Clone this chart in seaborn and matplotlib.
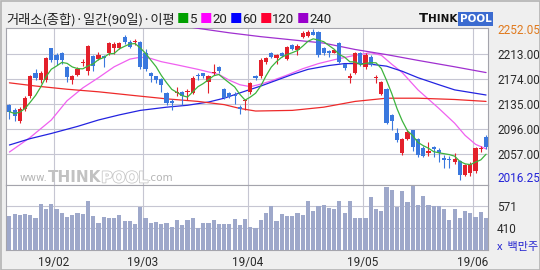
import matplotlib
matplotlib.use('Agg')
import matplotlib.pyplot as plt
from matplotlib.patches import Rectangle
import matplotlib.patheffects as pe
import numpy as np
import pandas as pd
import seaborn as sns

# ---------------- data ----------------
opens = [2133, 2126, 2108, 2127, 2147, 2184, 2172, 2173, 2222, 2211,
         2214, 2192, 2172, 2180, 2199, 2186, 2210, 2205, 2210, 2214,
         2222, 2222, 2240, 2231, 2232, 2231, 2215, 2183, 2178, 2174,
         2152, 2140, 2152, 2153, 2153, 2152, 2180, 2183, 2170, 2183,
         2193, 2158, 2152, 2149, 2131, 2139, 2153, 2178, 2178, 2200,
         2214, 2207, 2214, 2205, 2227, 2219, 2240, 2241, 2248, 2248,
         2222, 2217, 2215, 2230, 2197, 2176, 2183, 2214, 2193, 2209,
         2175, 2151, 2159, 2118, 2089, 2058, 2081, 2094, 2081, 2066,
         2059, 2068, 2063, 2050, 2049, 2044, 2046, 2024, 2027, 2030,
         2064, 2084]
highs = [2135, 2128, 2130, 2147, 2180, 2190, 2186, 2208, 2223, 2215,
         2216, 2194, 2180, 2192, 2205, 2227, 2212, 2216, 2212, 2232,
         2232, 2232, 2242, 2235, 2236, 2234, 2220, 2185, 2179, 2176,
         2154, 2142, 2161, 2155, 2158, 2178, 2184, 2184, 2180, 2198,
         2195, 2160, 2154, 2153, 2133, 2142, 2170, 2180, 2206, 2208,
         2216, 2213, 2216, 2226, 2229, 2229, 2249, 2250, 2252.05, 2249,
         2224, 2219, 2221, 2232, 2198, 2183, 2216, 2216, 2214, 2212,
         2180, 2171, 2160, 2120, 2097, 2082, 2094, 2095, 2082, 2069,
         2076, 2070, 2066, 2055, 2054, 2058, 2047, 2041, 2044, 2068,
         2070, 2087]
lows = [2111, 2108, 2105, 2124, 2145, 2172, 2168, 2170, 2200, 2196,
        2197, 2170, 2166, 2178, 2194, 2180, 2186, 2203, 2192, 2212,
        2213, 2220, 2228, 2223, 2227, 2190, 2186, 2170, 2168, 2154,
        2134, 2126, 2147, 2133, 2141, 2150, 2172, 2175, 2152, 2180,
        2183, 2142, 2144, 2135, 2120, 2126, 2151, 2172, 2176, 2198,
        2206, 2198, 2208, 2203, 2219, 2211, 2238, 2239, 2242, 2209,
        2212, 2208, 2214, 2199, 2188, 2167, 2181, 2195, 2190, 2194,
        2168, 2149, 2103, 2094, 2076, 2055, 2079, 2061, 2052, 2053,
        2054, 2052, 2045, 2035, 2035, 2042, 2016.25, 2022, 2022, 2028,
        2060, 2064]
closes = [2123, 2117, 2127, 2145, 2178, 2175, 2184, 2206, 2203, 2203,
          2203, 2177, 2178, 2190, 2201, 2225, 2194, 2211, 2206, 2230,
          2228, 2230, 2231, 2224, 2233, 2193, 2189, 2178, 2173, 2165,
          2136, 2137, 2154, 2148, 2154, 2176, 2178, 2178, 2178, 2185,
          2186, 2144, 2146, 2147, 2127, 2141, 2168, 2176, 2204, 2206,
          2209, 2211, 2210, 2224, 2221, 2226, 2245, 2248, 2243, 2211,
          2214, 2215, 2219, 2201, 2191, 2178, 2214, 2198, 2211, 2196,
          2177, 2170, 2105, 2108, 2079, 2081, 2092, 2068, 2055, 2054,
          2061, 2065, 2059, 2048, 2047, 2049, 2024, 2040, 2042, 2067,
          2066, 2068]
volumes = [498, 512, 508, 512, 505, 486, 586, 549, 586, 549,
           517, 493, 505, 517, 512, 608, 498, 449, 493, 486,
           486, 505, 461, 461, 442, 566, 486, 449, 454, 437,
           447, 415, 466, 430, 466, 486, 408, 447, 447, 466,
           437, 442, 442, 478, 430, 478, 415, 408, 466, 517,
           571, 461, 512, 498, 498, 522, 508, 608, 532, 571,
           578, 559, 549, 608, 517, 608, 486, 486, 481, 634,
           549, 537, 712, 688, 566, 680, 603, 715, 581, 646,
           578, 571, 571, 549, 469, 549, 486, 532, 517, 493,
           525, 486]

month_labels = ['19/02', '19/03', '19/04', '19/05', '19/06']
month_first_idx = [9, 26, 46, 68, 89]

ma20_idx = [0, 4, 8, 11, 14, 17, 20, 23, 25, 27, 29, 32, 36, 40, 42, 44, 46, 48,
            50, 53, 56, 59, 62, 66, 69, 71, 73, 75, 78, 82, 85, 87, 89, 91]
ma20_val = [2060, 2083, 2110, 2140, 2160, 2176, 2193, 2205, 2208, 2206, 2201, 2196,
            2189, 2181, 2172, 2165, 2162, 2166, 2171, 2180, 2190, 2198, 2204, 2211,
            2215, 2211, 2197, 2184, 2157, 2128, 2105, 2086, 2072, 2065]
ma60_idx = [0, 4, 8, 13, 17, 21, 25, 30, 34, 38, 41, 45, 48, 51, 54, 57, 61, 64,
            68, 72, 75, 78, 82, 85, 88, 91]
ma60_val = [2071, 2081, 2089, 2100, 2110, 2118, 2125, 2130, 2133, 2138, 2144, 2155,
            2163, 2172, 2181, 2189, 2195, 2198, 2198, 2194, 2186, 2176, 2165, 2157,
            2153, 2149]
ma120_idx = [0, 5, 11, 17, 24, 30, 36, 41, 44, 47, 54, 60, 66, 72, 78, 85, 91]
ma120_val = [2168, 2163, 2158, 2154, 2148, 2143, 2139, 2134, 2128, 2124, 2125, 2130,
             2139, 2144, 2144, 2142, 2139]
ma240_idx = [33, 36, 42, 48, 54, 60, 66, 72, 78, 85, 91]
ma240_val = [2257, 2253, 2246, 2240, 2235, 2230, 2220, 2212, 2203, 2193, 2184]

price_ticks = [2057, 2096, 2135, 2174, 2213]
volume_ticks = [410, 571]

# ---------------- style ----------------
sns.set_theme(style='white')
NUM_FONT = ['Liberation Sans Narrow', 'Roboto', 'DejaVu Sans']
KR_FONT = ['Noto Sans CJK KR', 'DejaVu Sans']
plt.rcParams['font.family'] = ['Liberation Sans Narrow', 'Noto Sans CJK KR', 'DejaVu Sans']

RED, BLUE = '#e3202b', '#3a78de'
GRID = '#c6c6d2'
SPINE = '#a4a4ac'

df = pd.DataFrame({'idx': np.arange(len(closes)), 'open': opens, 'high': highs,
                   'low': lows, 'close': closes, 'volume': volumes})
df['ma5'] = df['close'].rolling(5, min_periods=1).mean()

W, H = 540, 270
fig = plt.figure(figsize=(W / 100, H / 100), dpi=100)
fig.patch.set_facecolor('#efefef')

L, R = 6, 488
P_TOP, P_BOT, V_BOT = 27.5, 185, 250
ax = fig.add_axes([L / W, 1 - P_BOT / H, (R - L) / W, (P_BOT - P_TOP) / H])
axv = fig.add_axes([L / W, 1 - V_BOT / H, (R - L) / W, (V_BOT - P_BOT) / H])
for a in (ax, axv):
    a.set_facecolor('white')

# volume bars
sns.barplot(data=df, x='idx', y='volume', ax=axv, color='#9ea8ca', saturation=1,
            width=0.8, edgecolor='none', errorbar=None, zorder=3)

# candles
colors = np.where(df['close'] >= df['open'], RED, BLUE)
ax.vlines(df['idx'], df['low'], df['high'], colors=colors, lw=0.8, zorder=4)
body_bottom = np.minimum(df['open'], df['close'])
body_h = np.maximum(np.abs(df['close'] - df['open']), 1.6)
ax.bar(df['idx'], body_h, bottom=body_bottom, width=0.8, color=colors, lw=0, zorder=4)

# moving averages
sns.lineplot(x=df['idx'], y=df['ma5'], ax=ax, color='#3db33d', lw=0.9, zorder=5)
sns.lineplot(x=ma20_idx, y=ma20_val, ax=ax, color='#f060f0', lw=0.9, zorder=3)
sns.lineplot(x=ma60_idx, y=ma60_val, ax=ax, color='#2323e0', lw=0.9, zorder=3)
sns.lineplot(x=ma120_idx, y=ma120_val, ax=ax, color='#ee2a2a', lw=0.9, zorder=3)
sns.lineplot(x=ma240_idx, y=ma240_val, ax=ax, color='#a030d0', lw=0.9, zorder=3)

# axes
xmin = -0.65
xmax = xmin + 92.02
boundaries = [i - 0.5 for i in month_first_idx]
for a in (ax, axv):
    a.set_xlim(xmin, xmax)
    a.set_xticks(boundaries)
    a.grid(True, color=GRID, lw=0.8)
    a.set_axisbelow(True)
    a.set_xlabel('')
    a.set_ylabel('')
    a.yaxis.tick_right()
    for s in a.spines.values():
        s.set_color(SPINE)
        s.set_linewidth(0.8)
    a.tick_params(length=0, colors='#2a2a2a', labelsize=8.5, labelfontfamily=NUM_FONT)

ax.set_ylim(2008.6, 2254.3)
ax.set_yticks(price_ticks)
ax.set_yticklabels([f'{v:.2f}' for v in price_ticks])
ax.tick_params(axis='y', pad=6.5)
ax.set_xticklabels([])

axv.set_ylim(249, 725)
axv.set_yticks(volume_ticks)
axv.set_yticklabels([str(v) for v in volume_ticks])
axv.tick_params(axis='y', pad=6.5)
axv.set_xticklabels(month_labels)
axv.tick_params(axis='x', pad=4.5)

hi = max(highs)
lo = min(lows)
ax.annotate(f'{hi:.2f}', xy=(1, hi), xycoords=('axes fraction', 'data'), xytext=(6.5, -1),
            textcoords='offset points', ha='left', va='center', color='#e07a1e',
            fontsize=8.5, family=NUM_FONT, annotation_clip=False)
ax.annotate(f'{lo:.2f}', xy=(1, lo), xycoords=('axes fraction', 'data'), xytext=(6.5, 1),
            textcoords='offset points', ha='left', va='center', color='#2424d8',
            fontsize=8.5, family=NUM_FONT, annotation_clip=False)

# ---------------- overlay decorations (pixel coords) ----------------
ov = fig.add_axes([0, 0, 1, 1], facecolor='none')
ov.set_xlim(0, W)
ov.set_ylim(H, 0)
ov.axis('off')
ov.add_patch(Rectangle((0.5, 0.5), W - 1, H - 1, fill=False, ec='#b4b4b4', lw=1.2))


def chain(x, y, pieces):
    prev = None
    for s, color, size, weight, fam, gap, extra in pieces:
        if prev is None:
            prev = ov.text(x, y, s, color=color, fontsize=size, fontweight=weight,
                           family=fam, ha='left', va='center', **extra)
        else:
            prev = ov.annotate(s, xy=(1, 0.5), xycoords=prev, xytext=(gap, 0),
                               textcoords='offset points', color=color, fontsize=size,
                               fontweight=weight, family=fam, ha='left', va='center',
                               **extra)
    return prev


legend_cols = ['#00a000', '#ff00ff', '#0000ff', '#ff0030', '#9900cc']
legend_nums = ['5', '20', '60', '120', '240']
pieces = [('거래소(종합)·일간(90일)·이평', '#222222', 9.5, 'normal', KR_FONT, 0, {})]
for c, nlab in zip(legend_cols, legend_nums):
    pieces.append(('■', c, 9, 'normal', KR_FONT, 1.8, {}))
    pieces.append((nlab, '#222222', 9.5, 'normal', NUM_FONT, 0, {}))
chain(6, 19.5, pieces)

# logo
chain(419, 19, [('T', '#111111', 9.5, 'bold', ['DejaVu Sans'], 0, {}),
                ('HINK', '#111111', 7.5, 'bold', ['DejaVu Sans'], 0, {}),
                ('POOL', 'white', 7.5, 'bold', ['DejaVu Sans'], 1.5,
                 {'bbox': dict(boxstyle='square,pad=0.18', fc='#3b6bd0', ec='none')})])

# watermark
wm = {'path_effects': [pe.withStroke(linewidth=1.2, foreground='#c8c8c8')]}
chain(20, 178, [('www.', '#b4b4b4', 7.5, 'normal', ['DejaVu Sans'], 0, {}),
                ('THINK', '#c2c2c2', 11, 'bold', ['DejaVu Sans'], 0, {}),
                ('POOL', 'white', 11, 'bold', ['DejaVu Sans'], 0, wm),
                ('.com', '#b4b4b4', 7.5, 'normal', ['DejaVu Sans'], 0, {})])

ov.text(497, 247, 'x  백만주', color='#2424d0', fontsize=8, family=KR_FONT,
        ha='left', va='center')

fig.savefig('out.png', dpi=100, facecolor=fig.get_facecolor())
